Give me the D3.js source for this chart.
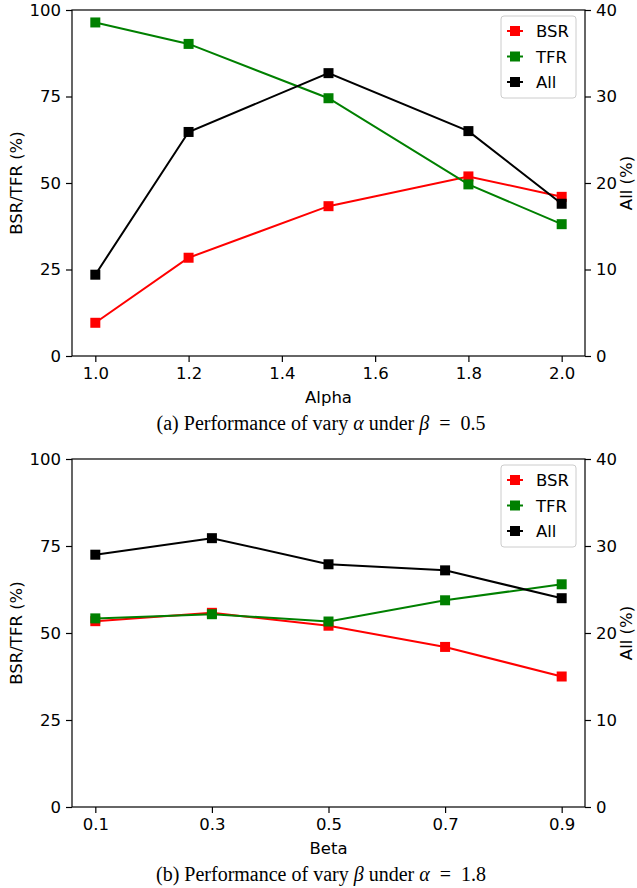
<!DOCTYPE html>
<html>
<head>
<meta charset="utf-8">
<script src="https://cdn.jsdelivr.net/npm/d3@7"></script>
<style>
    body { margin: 0; background: #fff; }
    text { font-family: "DejaVu Sans", sans-serif; }
    .caption { font-family: "Liberation Serif", serif; font-size: 20px; }
</style>
</head>
<body>
<script>
//chart values
var alphaCats = ["1.0", "1.2", "1.5", "1.8", "2.0"];
var alphaVals = [1.0, 1.2, 1.5, 1.8, 2.0];
var alphaBSR = [9.6, 28.4, 43.3, 51.9, 46.0];
var alphaTFR = [96.4, 90.2, 74.5, 49.6, 38.1];
var alphaAll = [9.4, 25.9, 32.7, 26.0, 17.6];

var betaCats = ["0.1", "0.3", "0.5", "0.7", "0.9"];
var betaBSR = [53.4, 55.8, 52.1, 46.0, 37.5];
var betaTFR = [54.2, 55.4, 53.3, 59.4, 64.0];
var betaAll = [29.0, 30.9, 27.9, 27.2, 24.0];

var leftTicks = [0, 25, 50, 75, 100];
var rightTicks = [0, 10, 20, 30, 40];
var alphaTicks = [1.0, 1.2, 1.4, 1.6, 1.8, 2.0];
var seriesNames = ["BSR", "TFR", "All"];
var seriesColors = ["#ff0000", "#008000", "#000000"];

(function () {

    var fs = "16.5px"; //font size of ticks, labels, legend

    var svg = d3.select("body")
        .append("svg")
        .attr("width", 637)
        .attr("height", 888);

    //panel (a): numeric alpha axis
    var xA = d3.scaleLinear()
        .domain([0.95, 2.05])
        .range([72, 585]);
    drawPanel(svg, {
        top: 10, bottom: 356,
        x: xA,
        xTicks: alphaTicks,
        xFormat: d3.format(".1f"),
        xPos: alphaVals,
        xLabel: "Alpha",
        bsr: alphaBSR, tfr: alphaTFR, all: alphaAll,
        caption: ["(a) Performance of vary ", "α", " under ", "β", " = 0.5"],
        captionY: 430
    });

    //panel (b): categorical beta axis, evenly spaced
    var xB = d3.scaleLinear()
        .domain([-0.2, 4.2])
        .range([72, 585]);
    drawPanel(svg, {
        top: 459, bottom: 807,
        x: xB,
        xTicks: d3.range(betaCats.length),
        xFormat: function (i) { return betaCats[i]; },
        xPos: d3.range(betaCats.length),
        xLabel: "Beta",
        bsr: betaBSR, tfr: betaTFR, all: betaAll,
        caption: ["(b) Performance of vary ", "β", " under ", "α", " = 1.8"],
        captionY: 881
    });

    function drawPanel(svg, p) {
        var g = svg.append("g");
        var left = 72, right = 585;

        var yL = d3.scaleLinear().domain([0, 100]).range([p.bottom, p.top]);
        var yR = d3.scaleLinear().domain([0, 40]).range([p.bottom, p.top]);

        //series lines and square markers
        var data = [
            { vals: p.bsr, scale: yL },
            { vals: p.tfr, scale: yL },
            { vals: p.all, scale: yR }
        ];
        data.forEach(function (s, k) {
            var pts = s.vals.map(function (v, i) { return [p.x(p.xPos[i]), s.scale(v)]; });
            g.append("path")
                .attr("d", d3.line()(pts))
                .attr("fill", "none")
                .attr("stroke", seriesColors[k])
                .attr("stroke-width", 2);
            g.selectAll(null)
                .data(pts)
                .enter()
                .append("rect")
                .attr("x", function (d) { return d[0] - 5; })
                .attr("y", function (d) { return d[1] - 5; })
                .attr("width", 10)
                .attr("height", 10)
                .attr("fill", seriesColors[k]);
        });

        //axes
        var axB = g.append("g")
            .attr("transform", "translate(0," + p.bottom + ")")
            .call(d3.axisBottom(p.x).tickValues(p.xTicks).tickFormat(p.xFormat).tickSizeOuter(0).tickSize(6).tickPadding(5));
        var axL = g.append("g")
            .attr("transform", "translate(" + left + ",0)")
            .call(d3.axisLeft(yL).tickValues(leftTicks).tickSizeOuter(0).tickSize(6).tickPadding(5));
        var axR = g.append("g")
            .attr("transform", "translate(" + right + ",0)")
            .call(d3.axisRight(yR).tickValues(rightTicks).tickSizeOuter(0).tickSize(6).tickPadding(5));
        [axB, axL, axR].forEach(function (a) {
            a.selectAll("text").style("font-size", fs).attr("fill", "#000");
            a.selectAll("line").attr("stroke", "#000").attr("stroke-width", 1.2);
            a.select(".domain").remove();
        });

        //frame
        g.append("rect")
            .attr("x", left)
            .attr("y", p.top)
            .attr("width", right - left)
            .attr("height", p.bottom - p.top)
            .attr("fill", "none")
            .attr("stroke", "#000")
            .attr("stroke-width", 1.2);

        //axis titles
        g.append("text")
            .attr("x", (left + right) / 2)
            .attr("y", p.bottom + 47)
            .attr("text-anchor", "middle")
            .style("font-size", fs)
            .text(p.xLabel);
        g.append("text")
            .attr("transform", "translate(22," + (p.top + p.bottom) / 2 + ") rotate(-90)")
            .attr("text-anchor", "middle")
            .style("font-size", fs)
            .text("BSR/TFR (%)");
        g.append("text")
            .attr("transform", "translate(632," + (p.top + p.bottom) / 2 + ") rotate(-90)")
            .attr("text-anchor", "middle")
            .style("font-size", fs)
            .text("All (%)");

        //legend
        var lg = g.append("g").attr("transform", "translate(501," + (p.top + 6) + ")");
        lg.append("rect")
            .attr("width", 75)
            .attr("height", 82)
            .attr("rx", 3)
            .attr("fill", "#fff")
            .attr("fill-opacity", 0.8)
            .attr("stroke", "#cccccc");
        seriesNames.forEach(function (name, k) {
            var cy = 15 + k * 25.5;
            lg.append("line")
                .attr("x1", 6).attr("x2", 22)
                .attr("y1", cy).attr("y2", cy)
                .attr("stroke", seriesColors[k])
                .attr("stroke-width", 2);
            lg.append("rect")
                .attr("x", 9).attr("y", cy - 5)
                .attr("width", 10).attr("height", 10)
                .attr("fill", seriesColors[k]);
            lg.append("text")
                .attr("x", 35)
                .attr("y", cy + 6)
                .style("font-size", fs)
                .text(name);
        });

        //caption with italic greek letters
        var cap = svg.append("text")
            .attr("class", "caption")
            .attr("x", 321)
            .attr("y", p.captionY)
            .attr("text-anchor", "middle")
            .attr("xml:space", "preserve")
            .style("white-space", "pre");
        p.caption.forEach(function (part, i) {
            cap.append("tspan")
                .style("font-style", i % 2 === 1 ? "italic" : "normal")
                .text(part.replace(" = ", "  =  "));
        });
    }

})();
</script>
</body>
</html>
